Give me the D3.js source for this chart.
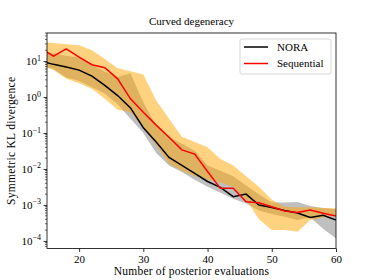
<!DOCTYPE html>
<html>
<head>
<meta charset="utf-8">
<script src="https://cdn.jsdelivr.net/npm/d3@7"></script>
<style>
  body { margin: 0; background: #fff; }
  svg text { font-family: "Liberation Serif", "DejaVu Serif", serif; fill: #000; }
</style>
</head>
<body>
<div id="chart"></div>
<script>
// number of posterior evaluations
var evals = [14, 16, 18, 20, 22, 24, 26, 28, 30, 32, 34, 36, 38, 40, 42, 44, 46, 48, 50, 52, 54, 56, 58, 60];

// NORA: median and band
var noraMid = [10, 8.1, 6.8, 5.6, 3.8, 2.1, 1.1, 0.5, 0.14, 0.056, 0.021, 0.0126, 0.0076, 0.0045, 0.0031, 0.0017, 0.002, 0.001, 0.00085, 0.0007, 0.0006, 0.00045, 0.00052, 0.00038];
var noraHi = [20, 16.6, 14.1, 12.6, 7.6, 5.1, 3.6, 4.6, 0.7, 0.16, 0.079, 0.05, 0.032, 0.0126, 0.0089, 0.0063, 0.0035, 0.002, 0.00117, 0.00117, 0.0012, 0.00093, 0.00083, 0.00076];
var noraLo = [7.4, 6.0, 3.5, 2.8, 1.86, 1.26, 0.63, 0.25, 0.1, 0.028, 0.0126, 0.0083, 0.005, 0.0032, 0.0022, 0.0015, 0.0011, 0.0007, 0.00056, 0.00047, 0.00038, 0.00045, 0.00022, 0.000117];

// Sequential: median and band
var seqMid = [23, 13.8, 21.9, 12.9, 7.9, 6.5, 3.2, 0.89, 0.38, 0.166, 0.076, 0.034, 0.026, 0.0085, 0.0029, 0.0029, 0.00123, 0.00115, 0.00089, 0.00068, 0.00062, 0.00072, 0.00059, 0.00049];
var seqHi = [34, 32, 29.5, 27.5, 20, 11.5, 6.3, 5.2, 4.2, 0.8, 0.25, 0.079, 0.056, 0.04, 0.019, 0.0126, 0.0063, 0.0032, 0.0014, 0.00089, 0.00087, 0.00087, 0.00083, 0.00081];
var seqLo = [7.9, 5.6, 3.2, 2.4, 1.66, 0.89, 0.44, 0.38, 0.14, 0.045, 0.014, 0.0089, 0.0063, 0.005, 0.0042, 0.0032, 0.0014, 0.0004, 0.0002, 0.0002, 0.00018, 0.00038, 0.00045, 0.0005];

var xTicks = [20, 30, 40, 50, 60];
var yTicks = [1e1, 1e0, 1e-1, 1e-2, 1e-3, 1e-4];
var yExps = ["1", "0", "\u22121", "\u22122", "\u22123", "\u22124"];

var W = 374, H = 280;
var pL = 47, pR = 336, pT = 33, pB = 248.5;

var svg = d3.select("#chart").append("svg")
    .attr("width", W)
    .attr("height", H);

var x = d3.scaleLinear().domain([15, 60]).range([pL, pR]);
var y = d3.scaleLog().domain([Math.pow(10, -4.21), Math.pow(10, 1.78)]).range([pB, pT]);

svg.append("clipPath").attr("id", "plotclip")
  .append("rect")
    .attr("x", pL).attr("y", pT)
    .attr("width", pR - pL).attr("height", pB - pT);

var plot = svg.append("g").attr("clip-path", "url(#plotclip)");

function band(lo, hi) {
  return d3.area()
    .x(function(d, i) { return x(evals[i]); })
    .y0(function(d, i) { return y(lo[i]); })
    .y1(function(d, i) { return y(hi[i]); })(evals);
}
function line(vals) {
  return d3.line()
    .x(function(d, i) { return x(evals[i]); })
    .y(function(d, i) { return y(vals[i]); })(evals);
}

plot.append("path").attr("d", band(noraLo, noraHi))
    .style("fill", "gray").style("fill-opacity", 0.5);
plot.append("path").attr("d", band(seqLo, seqHi))
    .style("fill", "orange").style("fill-opacity", 0.5);
plot.append("path").attr("d", line(noraMid))
    .style("fill", "none").style("stroke", "black").style("stroke-width", 1.5);
plot.append("path").attr("d", line(seqMid))
    .style("fill", "none").style("stroke", "red").style("stroke-width", 1.5);

// x axis
var xAxis = svg.append("g")
    .attr("transform", "translate(0," + pB + ")")
    .call(d3.axisBottom(x).tickValues(xTicks).tickSize(3.5).tickPadding(3).tickFormat(d3.format("d")));
xAxis.select(".domain").remove();
xAxis.selectAll("line").style("stroke-width", 0.8);
xAxis.selectAll("text").style("font-size", "11px").style("font-family", "Liberation Serif, serif");

// y axis, major ticks
var yAxis = svg.append("g")
    .attr("transform", "translate(" + pL + ",0)")
    .call(d3.axisLeft(y).tickValues(yTicks).tickSize(3.5).tickPadding(3).tickFormat(""));
yAxis.select(".domain").remove();
yAxis.selectAll("line").style("stroke-width", 0.8);

// y minor ticks
var minor = [];
for (var e = -5; e <= 1; e++) {
  for (var m = 2; m <= 9; m++) {
    var v = m * Math.pow(10, e);
    if (v >= y.domain()[0] && v <= y.domain()[1]) minor.push(v);
  }
}
svg.append("g").selectAll("line").data(minor).enter().append("line")
    .attr("x1", pL - 2).attr("x2", pL)
    .attr("y1", function(d) { return y(d); })
    .attr("y2", function(d) { return y(d); })
    .style("stroke", "black").style("stroke-width", 0.6);

// y tick labels with superscripts
var yl = svg.append("g").selectAll("text").data(yTicks).enter().append("text")
    .attr("x", pL - 6)
    .attr("y", function(d) { return y(d) + 4; })
    .attr("text-anchor", "end")
    .style("font-size", "11px");
yl.append("tspan").text("10");
yl.append("tspan").attr("dy", -4.5).style("font-size", "8px")
    .text(function(d, i) { return yExps[i]; });

// frame
svg.append("rect")
    .attr("x", pL).attr("y", pT)
    .attr("width", pR - pL).attr("height", pB - pT)
    .style("fill", "none").style("stroke", "black").style("stroke-width", 0.8);

// title and axis labels
svg.append("text").attr("x", (pL + pR) / 2).attr("y", 25)
    .attr("text-anchor", "middle").style("font-size", "11px")
    .text("Curved degeneracy");
svg.append("text").attr("x", (pL + pR) / 2).attr("y", 275)
    .attr("text-anchor", "middle").style("font-size", "11.5px")
    .style("letter-spacing", "0.2px")
    .text("Number of posterior evaluations");
svg.append("text")
    .attr("transform", "translate(15," + ((pT + pB) / 2) + ") rotate(-90)")
    .attr("text-anchor", "middle").style("font-size", "11.5px")
    .style("letter-spacing", "0.3px")
    .text("Symmetric KL divergence");

// legend
var names = ["NORA", "Sequential"];
var colors = ["black", "red"];
var lg = svg.append("g");
lg.append("rect")
    .attr("x", 240).attr("y", 39).attr("width", 91).attr("height", 35)
    .attr("rx", 2)
    .style("fill", "white").style("fill-opacity", 0.8)
    .style("stroke", "#cccccc").style("stroke-width", 0.8);
var items = lg.selectAll("g.item").data(names).enter().append("g")
    .attr("transform", function(d, i) { return "translate(0," + (47 + i * 16.5) + ")"; });
items.append("line")
    .attr("x1", 244).attr("x2", 268).attr("y1", 0).attr("y2", 0)
    .style("stroke", function(d, i) { return colors[i]; }).style("stroke-width", 1.5);
items.append("text")
    .attr("x", 277).attr("y", 3.5)
    .style("font-size", "11px")
    .text(function(d) { return d; });
</script>
</body>
</html>
